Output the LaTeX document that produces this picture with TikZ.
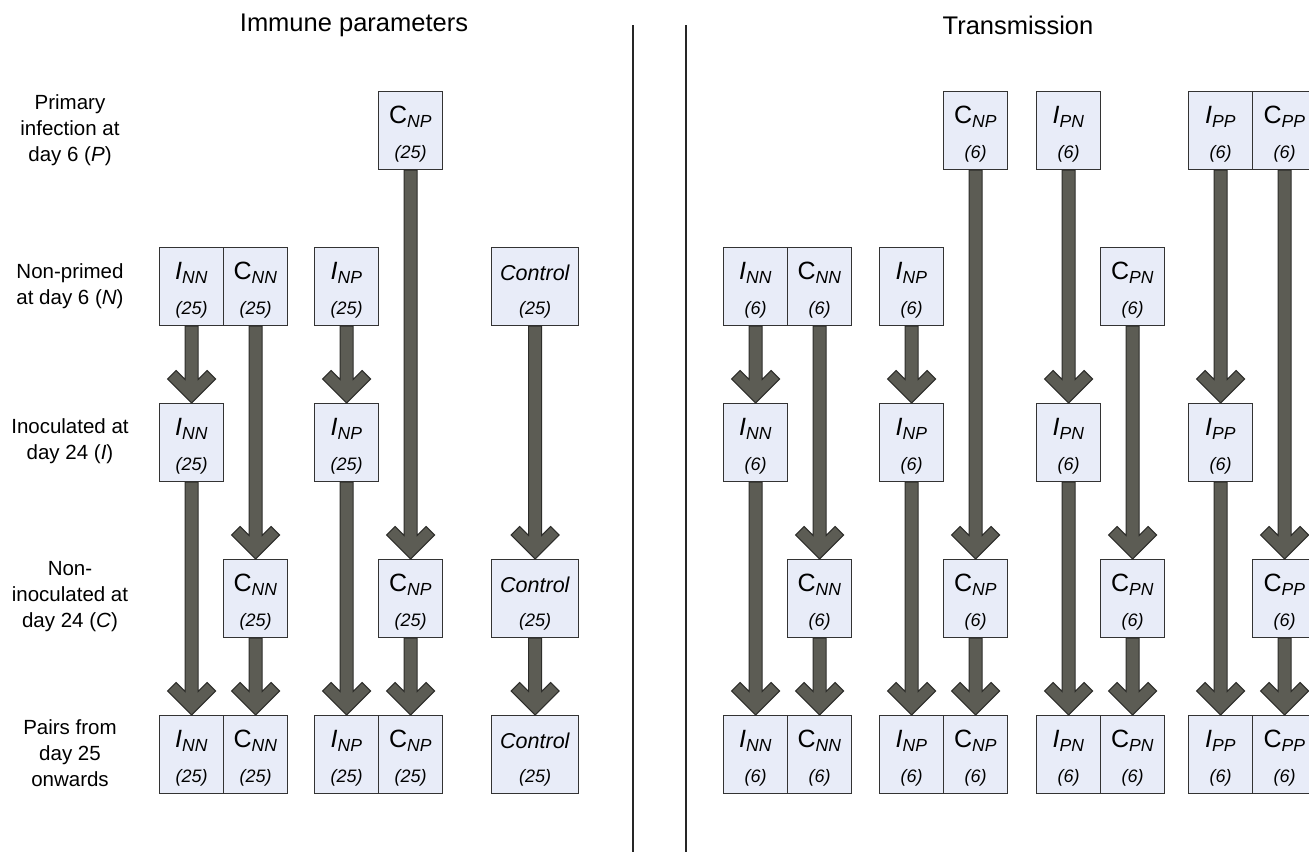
\documentclass[tikz,border=0pt]{standalone}
\usepackage{fontspec}
\setmainfont{Liberation Sans}
\usetikzlibrary{calc}

\definecolor{cellfill}{RGB}{232,236,248}
\definecolor{flowfill}{RGB}{92,92,84}
\definecolor{flowline}{RGB}{45,45,42}

\tikzset{
  cell/.style={draw=black!80, fill=cellfill, line width=1.2pt, minimum width=64pt,
    minimum height=78pt, inner sep=0pt, anchor=north west},
  wide/.style={minimum width=87pt},
  lab/.style={font=\fontsize{25}{25}\selectfont, inner sep=0pt},
  num/.style={font=\fontsize{18}{18}\selectfont\itshape, inner sep=0pt},
  rowtext/.style={font=\fontsize{20.5}{26}\selectfont, align=center},
  heading/.style={font=\fontsize{25.5}{28}\selectfont},
  divider/.style={draw=black!85, line width=1.6pt},
  flowarrow/.style={fill=flowfill, draw=flowline, line width=1pt, line join=miter},
}

\newcommand\Iab[1]{\textit{I}\textsubscript{\textit{#1}}}
\newcommand\Cab[1]{C\textsubscript{\textit{#1}}}
\newcommand\Ctl{{\fontsize{21.5}{21.5}\selectfont\textit{Control}}}

% box with its label and group size
\newcommand\cell[5][]{%
  \node[cell,#1] (#2) at (#3) {};
  \node[lab] (#2-l) at ([yshift=-26pt]#2.north) {#4};
  \node[num] (#2-n) at ([yshift=-63pt]#2.north) {#5};
}

% thick arrow with open chevron head
\newcommand\flow[2]{%
  \draw[flowarrow] let \p1=(#1.south), \p2=(#2.north) in
    (\x2-6.5pt,\y1) -- (\x2-6.5pt,\y2+23.5pt) -- (\x2-15.5pt,\y2+32.5pt)
    -- (\x2-24pt,\y2+24pt) -- (\x2,\y2) -- (\x2+24pt,\y2+24pt)
    -- (\x2+15.5pt,\y2+32.5pt) -- (\x2+6.5pt,\y2+23.5pt) -- (\x2+6.5pt,\y1) -- cycle;
}

\begin{document}
\begin{tikzpicture}[x=1pt, y=-1pt]
  \useasboundingbox (0,0) rectangle (1309,852);

  \node[heading] (hleft) at (354,25) {Immune parameters};
  \node[heading] (hright) at (1018,25) {Transmission};

  \draw[divider] (633,25) -- (633,852);
  \draw[divider] (686,25) -- (686,852);

  \node[rowtext] (rowp) at (70,130) {Primary\\infection at\\day 6 (\textit{P})};
  \node[rowtext] (rown) at (70,286) {Non-primed\\at day 6 (\textit{N})};
  \node[rowtext] (rowi) at (70,441) {Inoculated at\\day 24 (\textit{I})};
  \node[rowtext] (rowc) at (70,597) {Non-\\inoculated at\\day 24 (\textit{C})};
  \node[rowtext] (rowx) at (70,753) {Pairs from\\day 25\\onwards};

  % immune parameters
  \cell{aCNPp}{378,91}{\Cab{NP}}{(25)}

  \cell{aINNn}{159,247}{\Iab{NN}}{(25)}
  \cell{aCNNn}{223,247}{\Cab{NN}}{(25)}
  \cell{aINPn}{314,247}{\Iab{NP}}{(25)}
  \cell[wide]{aCtln}{491,247}{\Ctl}{(25)}

  \cell{aINNi}{159,403}{\Iab{NN}}{(25)}
  \cell{aINPi}{314,403}{\Iab{NP}}{(25)}

  \cell{aCNNc}{223,559}{\Cab{NN}}{(25)}
  \cell{aCNPc}{378,559}{\Cab{NP}}{(25)}
  \cell[wide]{aCtlc}{491,559}{\Ctl}{(25)}

  \cell{aINNx}{159,715}{\Iab{NN}}{(25)}
  \cell{aCNNx}{223,715}{\Cab{NN}}{(25)}
  \cell{aINPx}{314,715}{\Iab{NP}}{(25)}
  \cell{aCNPx}{378,715}{\Cab{NP}}{(25)}
  \cell[wide]{aCtlx}{491,715}{\Ctl}{(25)}

  \flow{aINNn}{aINNi}
  \flow{aINNi}{aINNx}
  \flow{aCNNn}{aCNNc}
  \flow{aCNNc}{aCNNx}
  \flow{aINPn}{aINPi}
  \flow{aINPi}{aINPx}
  \flow{aCNPp}{aCNPc}
  \flow{aCNPc}{aCNPx}
  \flow{aCtln}{aCtlc}
  \flow{aCtlc}{aCtlx}

  % transmission
  \cell{bCNPp}{943,91}{\Cab{NP}}{(6)}
  \cell{bIPNp}{1036,91}{\Iab{PN}}{(6)}
  \cell{bIPPp}{1188,91}{\Iab{PP}}{(6)}
  \cell{bCPPp}{1252,91}{\Cab{PP}}{(6)}

  \cell{bINNn}{723,247}{\Iab{NN}}{(6)}
  \cell{bCNNn}{787,247}{\Cab{NN}}{(6)}
  \cell{bINPn}{879,247}{\Iab{NP}}{(6)}
  \cell{bCPNn}{1100,247}{\Cab{PN}}{(6)}

  \cell{bINNi}{723,403}{\Iab{NN}}{(6)}
  \cell{bINPi}{879,403}{\Iab{NP}}{(6)}
  \cell{bIPNi}{1036,403}{\Iab{PN}}{(6)}
  \cell{bIPPi}{1188,403}{\Iab{PP}}{(6)}

  \cell{bCNNc}{787,559}{\Cab{NN}}{(6)}
  \cell{bCNPc}{943,559}{\Cab{NP}}{(6)}
  \cell{bCPNc}{1100,559}{\Cab{PN}}{(6)}
  \cell{bCPPc}{1252,559}{\Cab{PP}}{(6)}

  \cell{bINNx}{723,715}{\Iab{NN}}{(6)}
  \cell{bCNNx}{787,715}{\Cab{NN}}{(6)}
  \cell{bINPx}{879,715}{\Iab{NP}}{(6)}
  \cell{bCNPx}{943,715}{\Cab{NP}}{(6)}
  \cell{bIPNx}{1036,715}{\Iab{PN}}{(6)}
  \cell{bCPNx}{1100,715}{\Cab{PN}}{(6)}
  \cell{bIPPx}{1188,715}{\Iab{PP}}{(6)}
  \cell{bCPPx}{1252,715}{\Cab{PP}}{(6)}

  \flow{bINNn}{bINNi}
  \flow{bINNi}{bINNx}
  \flow{bCNNn}{bCNNc}
  \flow{bCNNc}{bCNNx}
  \flow{bINPn}{bINPi}
  \flow{bINPi}{bINPx}
  \flow{bCNPp}{bCNPc}
  \flow{bCNPc}{bCNPx}
  \flow{bIPNp}{bIPNi}
  \flow{bIPNi}{bIPNx}
  \flow{bCPNn}{bCPNc}
  \flow{bCPNc}{bCPNx}
  \flow{bIPPp}{bIPPi}
  \flow{bIPPi}{bIPPx}
  \flow{bCPPp}{bCPPc}
  \flow{bCPPc}{bCPPx}
\end{tikzpicture}
\end{document}
